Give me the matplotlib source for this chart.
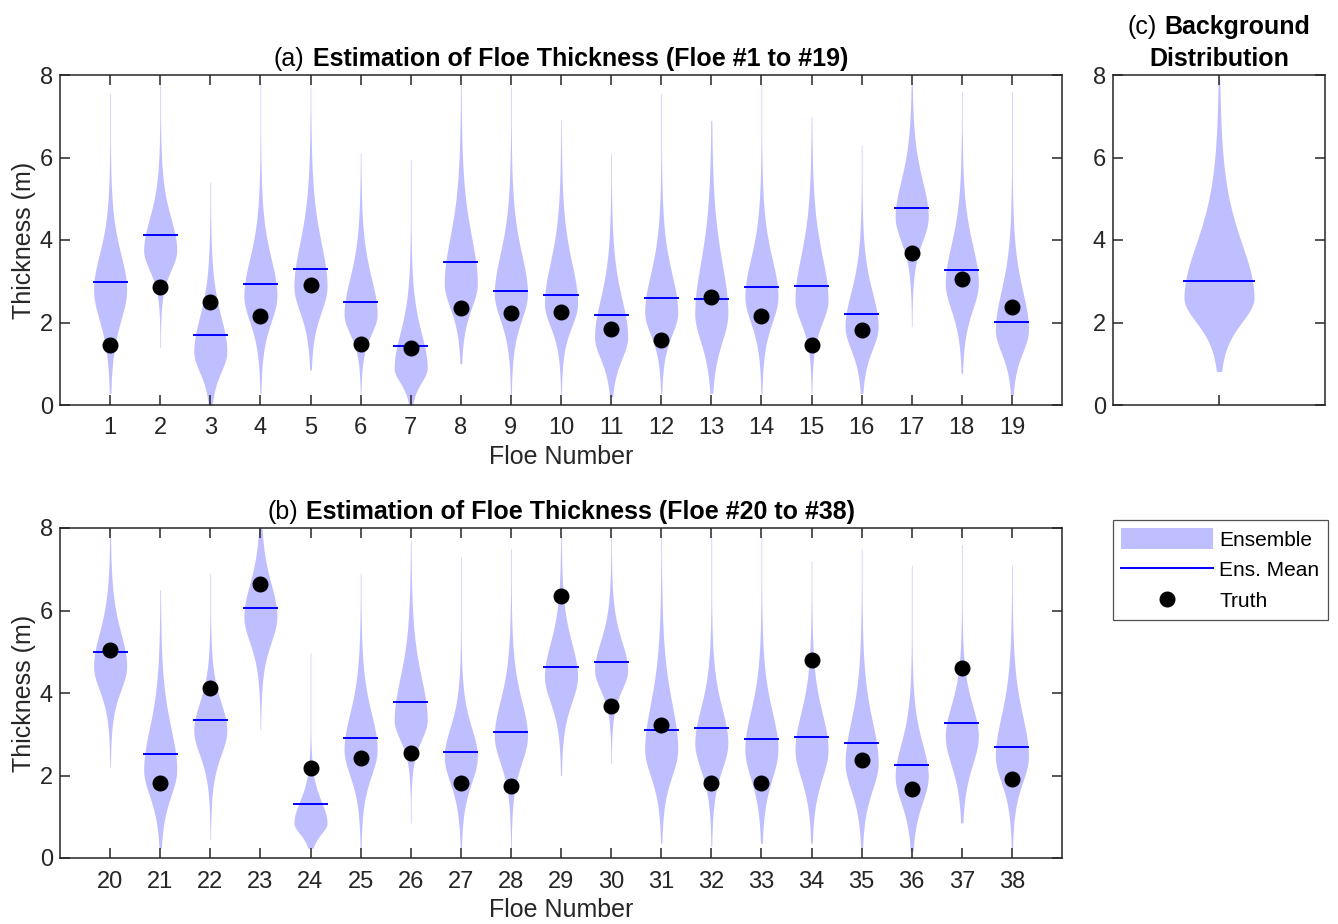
import numpy as np
import matplotlib.pyplot as plt
from matplotlib.offsetbox import TextArea, HPacker, VPacker, AnchoredOffsetbox
from matplotlib.patches import Patch
from matplotlib.lines import Line2D

plt.rcParams['font.family'] = ['Liberation Sans', 'DejaVu Sans']

# ---- floes 1-19 ----
floe_a = list(range(1, 20))
mean_a = [2.99, 4.12, 1.70, 2.94, 3.30, 2.50, 1.44, 3.47, 2.77, 2.67, 2.18, 2.60, 2.57,
          2.86, 2.89, 2.21, 4.78, 3.27, 2.02]
truth_a = [1.45, 2.87, 2.49, 2.16, 2.90, 1.47, 1.39, 2.36, 2.24, 2.26, 1.85, 1.58, 2.63,
           2.16, 1.46, 1.82, 3.68, 3.05, 2.37]
# ensemble shape: widest thickness, spread below / above it, tail ends
mode_a = [2.80, 3.75, 1.30, 2.65, 2.87, 2.20, 0.90, 2.95, 2.70, 2.46, 1.65, 2.25, 2.22,
          2.63, 2.55, 1.90, 4.56, 2.95, 1.82]
sd_lo_a = [0.85, 0.55, 0.57, 0.72, 0.70, 0.54, 0.40, 0.68, 0.72, 0.63, 0.60, 0.62, 0.78,
           0.72, 0.63, 0.63, 0.67, 0.73, 0.62]
sd_hi_a = [0.97, 0.88, 0.95, 1.02, 1.20, 1.00, 0.95, 1.28, 1.10, 1.13, 1.05, 1.05, 1.40,
           1.04, 1.20, 0.95, 1.00, 1.06, 1.08]
tail_lo_a = [0.28, 1.40, 0.00, 0.28, 0.85, 0.28, 0.00, 1.00, 0.20, 0.28, 0.20, 0.28, 0.28,
             0.28, 0.28, 0.28, 1.90, 0.77, 0.24]
tail_hi_a = [7.55, 7.80, 5.40, 7.80, 7.70, 6.10, 5.94, 7.80, 7.70, 6.90, 6.10, 7.55, 6.90,
             7.80, 7.00, 6.30, 7.80, 7.60, 7.60]

# ---- floes 20-38 ----
floe_b = list(range(20, 39))
mean_b = [5.00, 2.51, 3.35, 6.07, 1.32, 2.92, 3.78, 2.58, 3.06, 4.64, 4.76, 3.11, 3.16,
          2.88, 2.94, 2.80, 2.26, 3.28, 2.70]
truth_b = [5.05, 1.82, 4.11, 6.64, 2.18, 2.42, 2.55, 1.83, 1.74, 6.34, 3.69, 3.22, 1.83,
           1.83, 4.80, 2.37, 1.68, 4.61, 1.92]
mode_b = [4.65, 2.14, 3.10, 5.86, 0.85, 2.63, 3.35, 2.46, 2.95, 4.40, 4.56, 2.63, 2.79,
          2.63, 2.63, 2.30, 1.98, 2.95, 2.46]
sd_lo_b = [0.66, 0.72, 0.68, 0.72, 0.30, 0.72, 0.55, 0.72, 0.73, 0.71, 0.55, 0.73, 0.73,
           0.80, 0.78, 0.74, 0.72, 0.78, 0.71]
sd_hi_b = [0.92, 1.15, 0.76, 0.89, 0.60, 1.00, 1.15, 0.80, 0.98, 0.92, 0.78, 1.27, 0.95,
           1.05, 1.00, 1.15, 0.90, 0.85, 1.12]
tail_lo_b = [2.20, 0.24, 0.44, 3.10, 0.24, 0.20, 0.85, 0.24, 0.20, 2.00, 2.30, 0.36, 0.28,
             0.36, 0.36, 0.24, 0.16, 0.85, 0.24]
tail_hi_b = [8.00, 6.50, 6.90, 8.00, 4.97, 6.90, 7.70, 7.30, 7.50, 7.80, 7.80, 7.80, 7.80,
             7.80, 7.20, 7.50, 7.10, 7.60, 7.10]

# ---- background ensemble ----
bg_mean = 3.00
bg_mode, bg_sd_lo, bg_sd_hi = 2.60, 0.68, 1.50
bg_tail_lo, bg_tail_hi = 0.81, 7.90

ENS_COLOR = '#bfbfff'
AX_COLOR = '#262626'
HALF_W = 0.33


def profile(y, mode, sd_lo, sd_hi, nu=5):
    s = np.where(y < mode, sd_lo, sd_hi)
    z = (y - mode) / s
    return HALF_W * (1 + z ** 2 / nu) ** (-(nu + 1) / 2)


def draw_violin(ax, x, mean, mode, sd_lo, sd_hi, lo, hi):
    y = np.linspace(lo, hi, 500)
    w = np.maximum(profile(y, mode, sd_lo, sd_hi), 0.006)
    ax.fill_betweenx(y, x - w, x + w, color=ENS_COLOR, lw=0, zorder=1)
    ax.plot([x - HALF_W, x + HALF_W], [mean, mean], color='blue', lw=1.4, zorder=2)


def style_axes(ax, xlim, xticks, labels=True):
    ax.set_xlim(xlim)
    ax.set_ylim(0, 8)
    ax.set_xticks(xticks)
    ax.set_yticks([0, 2, 4, 6, 8])
    ax.tick_params(direction='in', top=True, right=True, length=7, width=1.1,
                   colors=AX_COLOR, labelsize=17)
    ax.tick_params(axis='x', pad=9)
    ax.tick_params(axis='y', pad=5)
    if not labels:
        ax.set_xticklabels([])
    for sp in ax.spines.values():
        sp.set_color(AX_COLOR)
        sp.set_linewidth(1.1)


def panel_title(ax, rows):
    lines = []
    for row in rows:
        parts = [TextArea(txt, textprops=dict(fontsize=18, fontweight=wt, color='k'))
                 for txt, wt in row]
        lines.append(HPacker(children=parts, align='baseline', pad=0, sep=6))
    box = VPacker(children=lines, align='center', pad=0, sep=6)
    ab = AnchoredOffsetbox(loc='lower center', child=box, pad=0, borderpad=0,
                           frameon=False, bbox_to_anchor=(0.5, 1.012),
                           bbox_transform=ax.transAxes)
    ax.add_artist(ab)


fig = plt.figure(figsize=(13.38, 9.24), dpi=100)
ax_a = fig.add_axes([60 / 1338, 1 - 405 / 924, 1002 / 1338, 330 / 924])
ax_b = fig.add_axes([60 / 1338, 1 - 858 / 924, 1002 / 1338, 330 / 924])
ax_c = fig.add_axes([1113 / 1338, 1 - 405 / 924, 212 / 1338, 330 / 924])

panels = [
    (ax_a, floe_a, mean_a, truth_a, mode_a, sd_lo_a, sd_hi_a, tail_lo_a, tail_hi_a,
     '(a)', 'Estimation of Floe Thickness (Floe #1 to #19)'),
    (ax_b, floe_b, mean_b, truth_b, mode_b, sd_lo_b, sd_hi_b, tail_lo_b, tail_hi_b,
     '(b)', 'Estimation of Floe Thickness (Floe #20 to #38)'),
]
for ax, floes, mean, truth, mode, sd_lo, sd_hi, lo, hi, tag, title in panels:
    for i, f in enumerate(floes):
        draw_violin(ax, f, mean[i], mode[i], sd_lo[i], sd_hi[i], lo[i], hi[i])
    ax.plot(floes, truth, 'o', color='k', ms=10.5, ls='none', zorder=3)
    style_axes(ax, (floes[0] - 1, floes[-1] + 1), floes)
    ax.set_xlabel('Floe Number', fontsize=18, color=AX_COLOR, labelpad=4)
    ax.set_ylabel('Thickness (m)', fontsize=18, color=AX_COLOR, labelpad=3)
    panel_title(ax, [[(tag, 'normal'), (title, 'bold')]])

# background distribution
draw_violin(ax_c, 1, bg_mean, bg_mode, bg_sd_lo, bg_sd_hi, bg_tail_lo, bg_tail_hi)
style_axes(ax_c, (0, 2), [1], labels=False)
panel_title(ax_c, [[('(c)', 'normal'), ('Background', 'bold')], [('Distribution', 'bold')]])

handles = [Patch(facecolor=ENS_COLOR, edgecolor='none'),
           Line2D([], [], color='blue', lw=1.4),
           Line2D([], [], marker='o', color='k', ms=10.5, ls='none')]
leg = fig.legend(handles, ['Ensemble', 'Ens. Mean', 'Truth'], loc='upper left',
                 bbox_to_anchor=(1113 / 1338, 1 - 520 / 924), fontsize=15,
                 handlelength=4.4, handleheight=1.15, labelspacing=0.45,
                 handletextpad=0.3, borderpad=0.4, borderaxespad=0, fancybox=False)
leg.get_frame().set_edgecolor(AX_COLOR)
leg.get_frame().set_linewidth(0.9)

fig.savefig('out.png', dpi=100)
